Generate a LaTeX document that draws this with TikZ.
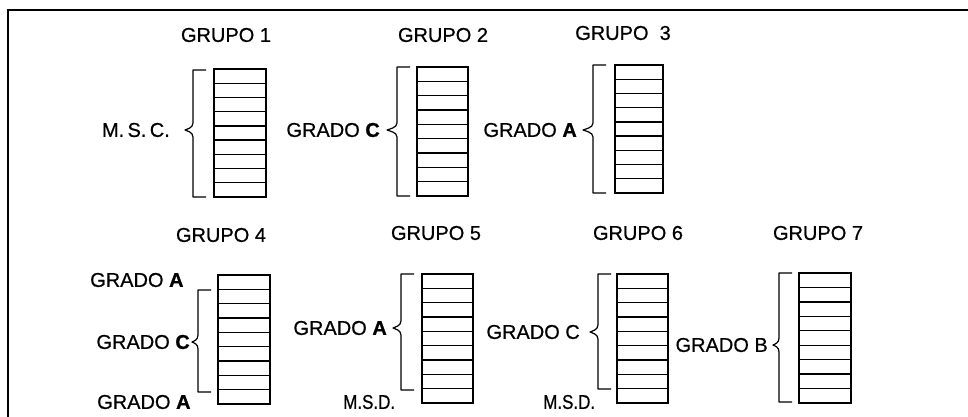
\documentclass[tikz,border=0pt]{standalone}
\usepackage{fontspec}
\setmainfont{Liberation Sans}[FakeBold=0.6]
\newfontfamily\heavy{Liberation Sans Bold}[FakeBold=0.8]
\newfontfamily\narrowfont{Liberation Sans}[FakeStretch=0.85,FakeBold=0.6]
\newcommand\hv[1]{{\heavy #1}}
\begin{document}
\begin{tikzpicture}[x=1pt,y=-1pt,
  lbl/.style={inner sep=0pt,font=\fontsize{20}{22}\selectfont},
  ttl/.style={inner sep=0pt,font=\fontsize{20}{22}\selectfont},
  nlbl/.style={inner sep=0pt,font=\narrowfont\fontsize{20}{22}\selectfont},
  colframe/.style={draw,line width=2pt,inner sep=0pt,outer sep=0pt,anchor=north west},
  rowline/.style={line width=1.4pt},
  bracket/.style={line width=1.2pt,line join=round}]
\useasboundingbox (0,0) rectangle (968,417);
\newcommand\stackcol[5]{%
  \node[colframe,minimum width={(#4-#2)*1pt},minimum height={(#5-#3)*1pt}] (#1) at (#2,#3) {};
  \foreach \k in {1,...,8}{\draw[rowline] (#2,{#3+\k*(#5-#3)/9}) -- (#4,{#3+\k*(#5-#3)/9});}%
}
\newcommand\sidebrace[5]{% x, ytop, ybot, ymid, tip
  \draw[bracket] (#1+13,#2) -- (#1,#2) -- (#1,#4-7)
    .. controls (#1,#4-2) and (#5+2,#4-1) .. (#5,#4)
    .. controls (#5+2,#4+1) and (#1,#4+2) .. (#1,#4+7)
    -- (#1,#3) -- (#1+13,#3);%
}
% frame
\draw[line width=2.5pt] (8,417) -- (8,10) -- (968,10);
% group 1
\node[ttl] (t1) at (226,35) {GRUPO 1};
\stackcol{c1}{214}{69}{266}{197}
\sidebrace{193}{70}{197}{130}{185}
\node[lbl,anchor=east] (l1) at (170,130) {M.\,S.\,C.};
% group 2
\node[ttl] (t2) at (443,35) {GRUPO 2};
\stackcol{c2}{417}{67}{468}{196}
\sidebrace{397}{67}{196}{130}{387}
\node[lbl,anchor=east] (l2) at (380,130) {GRADO \hv{C}};
% group 3
\node[ttl] (t3) at (623,33) {GRUPO\ \ 3};
\stackcol{c3}{615}{65}{663}{193}
\sidebrace{593}{65}{193}{130}{583}
\node[lbl,anchor=east] (l3) at (577,130) {GRADO \hv{A}};
% group 4
\node[ttl] (t4) at (221,235) {GRUPO 4};
\stackcol{c4}{218}{275}{270}{404}
\sidebrace{198}{290}{392}{342}{192}
\node[lbl,anchor=west] (l4a) at (90,280) {GRADO \hv{A}};
\node[lbl,anchor=east] (l4b) at (190,342) {GRADO \hv{C}};
\node[lbl,anchor=west] (l4c) at (97,402) {GRADO \hv{A}};
% group 5
\node[ttl] (t5) at (436,233) {GRUPO 5};
\stackcol{c5}{422}{274}{473}{403}
\sidebrace{401}{274}{390}{328}{393}
\node[lbl,anchor=east] (l5a) at (387,328) {GRADO \hv{A}};
\node[nlbl,anchor=west] (l5b) at (343,402) {M.S.D.};
% group 6
\node[ttl] (t6) at (638,233) {GRUPO 6};
\stackcol{c6}{617}{274}{668}{403}
\sidebrace{598}{274}{389}{332}{590}
\node[lbl,anchor=east] (l6a) at (580,332) {GRADO C};
\node[nlbl,anchor=west] (l6b) at (543,402) {M.S.D.};
% group 7
\node[ttl] (t7) at (818,233) {GRUPO 7};
\stackcol{c7}{799}{273}{851}{403}
\sidebrace{779}{273}{402}{345}{773}
\node[lbl,anchor=east] (l7) at (768,345) {GRADO B};
\end{tikzpicture}
\end{document}
